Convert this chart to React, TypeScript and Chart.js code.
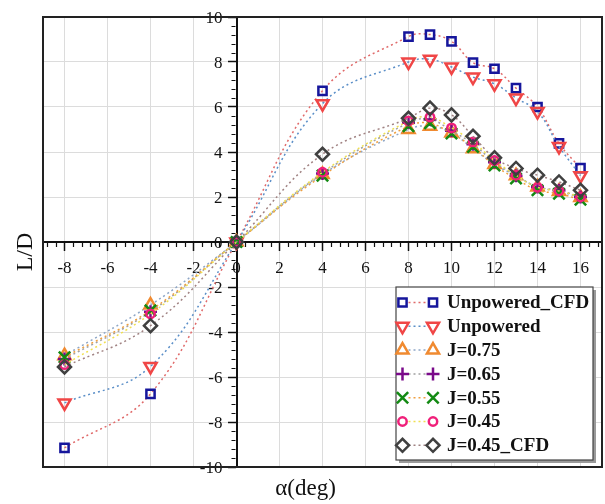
import React, { useEffect, useRef } from 'react';
import { Chart, registerables } from 'chart.js';
import { drawPoint } from 'chart.js/helpers';

Chart.register(...registerables);

// Angle of attack (deg)
const alpha = [-8, -4, 0, 4, 8, 9, 10, 11, 12, 13, 14, 15, 16];

// Lift-to-drag ratio for each configuration
const unpoweredCFD = [-9.15, -6.75, 0, 6.72, 9.13, 9.22, 8.92, 7.97, 7.7, 6.84, 6.0, 4.38, 3.28];
const unpowered = [-7.15, -5.53, 0, 6.15, 8.0, 8.12, 7.78, 7.33, 7.03, 6.4, 5.8, 4.25, 2.95];
const j075 = [-5.05, -2.8, 0, 3.0, 5.0, 5.15, 4.85, 4.15, 3.45, 2.95, 2.45, 2.25, 1.98];
const j065 = [-5.2, -3.1, 0, 3.05, 5.3, 5.45, 4.95, 4.35, 3.55, 2.95, 2.45, 2.3, 2.0];
const j055 = [-5.12, -3.04, 0, 2.95, 5.15, 5.28, 4.82, 4.22, 3.4, 2.82, 2.3, 2.15, 1.88];
const j045 = [-5.45, -3.2, 0, 3.1, 5.38, 5.55, 5.07, 4.45, 3.62, 2.97, 2.43, 2.27, 2.0];
const j045CFD = [-5.55, -3.72, 0, 3.9, 5.5, 5.95, 5.65, 4.7, 3.74, 3.27, 2.97, 2.67, 2.3];

const seriesLabels = ['Unpowered_CFD', 'Unpowered', 'J=0.75', 'J=0.65', 'J=0.55', 'J=0.45', 'J=0.45_CFD'];
const seriesValues = [unpoweredCFD, unpowered, j075, j065, j055, j045, j045CFD];

// Axis tick values
const xTicks = [-8, -6, -4, -2, 0, 2, 4, 6, 8, 10, 12, 14, 16];
const yTicks = [-10, -8, -6, -4, -2, 0, 2, 4, 6, 8, 10];

// Marker / line appearance per series
const styles = [
  { marker: '#16169c', line: '#e06a6a', pointStyle: 'rect', radius: 5.8, rotation: 0 },
  { marker: '#f04646', line: '#5b8fc8', pointStyle: 'triangle', radius: 7, rotation: 180 },
  { marker: '#f08a30', line: '#8ea6c6', pointStyle: 'triangle', radius: 7, rotation: 0 },
  { marker: '#7a0a8a', line: '#a0a0a0', pointStyle: 'cross', radius: 6.5, rotation: 0 },
  { marker: '#138a13', line: '#f0a040', pointStyle: 'crossRot', radius: 8, rotation: 0 },
  { marker: '#f0207a', line: '#f0e050', pointStyle: 'circle', radius: 4.2, rotation: 0 },
  { marker: '#404040', line: '#a08282', pointStyle: 'rectRot', radius: 6.5, rotation: 0 },
];

const xMin = -9;
const xMax = 17;
const yMin = -10;
const yMax = 10;
const minorStep = 0.4;

const serif = '"Liberation Serif", "Times New Roman", serif';

// Minor ticks, tick labels, frame, axis titles and the legend box
const decorations = {
  id: 'decorations',
  beforeDatasetsDraw(chart: any) {
    const { ctx, scales } = chart;
    const x = scales.x;
    const y = scales.y;
    const yZero = y.getPixelForValue(0);
    const xZero = x.getPixelForValue(0);
    ctx.save();
    ctx.strokeStyle = '#111';
    ctx.lineWidth = 1.2;
    ctx.beginPath();
    for (let k = Math.ceil(xMin / minorStep); k <= Math.floor(xMax / minorStep); k++) {
      if (k % 5 === 0) continue;
      const px = Math.round(x.getPixelForValue(k * minorStep)) + 0.5;
      ctx.moveTo(px, yZero + 1);
      ctx.lineTo(px, yZero + 5);
    }
    for (let k = Math.ceil(yMin / minorStep); k <= Math.floor(yMax / minorStep); k++) {
      if (k % 5 === 0) continue;
      const py = Math.round(y.getPixelForValue(k * minorStep)) + 0.5;
      ctx.moveTo(xZero - 1, py);
      ctx.lineTo(xZero - 5, py);
    }
    ctx.stroke();

    // tick labels
    ctx.fillStyle = '#111';
    ctx.font = `17px ${serif}`;
    ctx.textBaseline = 'alphabetic';
    ctx.textAlign = 'center';
    x.ticks.forEach((t: any) => {
      ctx.fillText(String(t.value), x.getPixelForValue(t.value), yZero + 31);
    });
    ctx.textAlign = 'right';
    y.ticks.forEach((t: any) => {
      ctx.fillText(String(t.value), xZero - 14, y.getPixelForValue(t.value) + 6);
    });
    ctx.restore();
  },
  afterDraw(chart: any) {
    const { ctx, chartArea } = chart;
    const { left, top, right, bottom } = chartArea;
    ctx.save();
    ctx.strokeStyle = '#222';
    ctx.lineWidth = 2;
    ctx.strokeRect(left, top, right - left, bottom - top);

    // axis titles
    ctx.fillStyle = '#111';
    ctx.font = `24px ${serif}`;
    ctx.textAlign = 'center';
    ctx.textBaseline = 'middle';
    ctx.save();
    ctx.translate(left - 17, (top + bottom) / 2 + 10);
    ctx.rotate(-Math.PI / 2);
    ctx.fillText('L/D', 0, 0);
    ctx.restore();
    ctx.font = `23px ${serif}`;
    ctx.textBaseline = 'alphabetic';
    ctx.fillText('α(deg)', (left + right) / 2 - 17, bottom + 28);

    // legend
    const bx = right - 206;
    const by = bottom - 180;
    const bw = 197;
    const bh = 173;
    ctx.fillStyle = '#9a9a9a';
    ctx.fillRect(bx + 3, by + 3, bw, bh);
    ctx.fillStyle = '#fff';
    ctx.fillRect(bx, by, bw, bh);
    ctx.strokeStyle = '#444';
    ctx.lineWidth = 1.2;
    ctx.strokeRect(bx, by, bw, bh);
    const rowH = 23.8;
    chart.data.datasets.forEach((ds: any, i: number) => {
      const cy = by + 15.5 + i * rowH;
      const m1 = bx + 6.5;
      const m2 = bx + 37;
      ctx.save();
      ctx.strokeStyle = ds.borderColor;
      ctx.lineWidth = 1.5;
      ctx.setLineDash([2, 3]);
      ctx.beginPath();
      ctx.moveTo(m1 + 6, cy);
      ctx.lineTo(m2 - 6, cy);
      ctx.stroke();
      ctx.restore();
      ctx.save();
      ctx.strokeStyle = ds.pointBorderColor;
      ctx.fillStyle = 'rgba(0,0,0,0)';
      ctx.lineWidth = ds.pointBorderWidth;
      const opts = {
        pointStyle: ds.pointStyle,
        rotation: ds.pointRotation,
        radius: ds.pointRadius,
        borderWidth: ds.pointBorderWidth,
      };
      drawPoint(ctx, opts, m1, cy);
      drawPoint(ctx, opts, m2, cy);
      ctx.restore();
      ctx.fillStyle = '#111';
      ctx.font = `bold 19px ${serif}`;
      ctx.textAlign = 'left';
      ctx.textBaseline = 'middle';
      ctx.fillText(ds.label, bx + 51, cy + 1);
    });
    ctx.restore();
  },
};

export default function App() {
  const canvasRef = useRef<HTMLCanvasElement | null>(null);

  useEffect(() => {
    const canvas = canvasRef.current;
    if (!canvas) return;
    const datasets = seriesLabels.map((label, i) => ({
      label,
      data: alpha.map((a, j) => ({ x: a, y: seriesValues[i][j] })),
      borderColor: styles[i].line,
      borderWidth: 1.5,
      borderDash: [2, 3],
      tension: 0.4,
      fill: false,
      pointStyle: styles[i].pointStyle,
      pointRadius: styles[i].radius,
      pointRotation: styles[i].rotation,
      pointBorderColor: styles[i].marker,
      pointBackgroundColor: 'rgba(0,0,0,0)',
      pointBorderWidth: 2.5,
      order: -i,
    }));

    const chart = new Chart(canvas, {
      type: 'line',
      data: { datasets },
      options: {
        animation: false,
        responsive: false,
        layout: { autoPadding: false, padding: { left: 43, top: 17, right: 3, bottom: 37 } },
        plugins: { legend: { display: false }, tooltip: { enabled: false } },
        scales: {
          x: {
            type: 'linear',
            min: xMin,
            max: xMax,
            position: { y: 0 },
            afterBuildTicks: (s: any) => {
              s.ticks = xTicks.map((v) => ({ value: v }));
            },
            ticks: { display: false },
            grid: { color: '#dcdcdc', lineWidth: 1, tickLength: 8, tickColor: '#111', tickWidth: 1.5 },
            border: { color: '#111', width: 2 },
          },
          y: {
            type: 'linear',
            min: yMin,
            max: yMax,
            position: { x: 0 },
            afterBuildTicks: (s: any) => {
              s.ticks = yTicks.map((v) => ({ value: v }));
            },
            ticks: { display: false },
            grid: { color: '#dcdcdc', lineWidth: 1, tickLength: 8, tickColor: '#111', tickWidth: 1.5 },
            border: { color: '#111', width: 2 },
          },
        },
      } as any,
      plugins: [decorations],
    });
    return () => chart.destroy();
  }, []);

  return (
    <div style={{ position: 'absolute', left: 0, top: 0, width: 605, height: 504, background: '#fff' }}>
      <canvas ref={canvasRef} width={605} height={504} style={{ display: 'block' }} />
    </div>
  );
}
